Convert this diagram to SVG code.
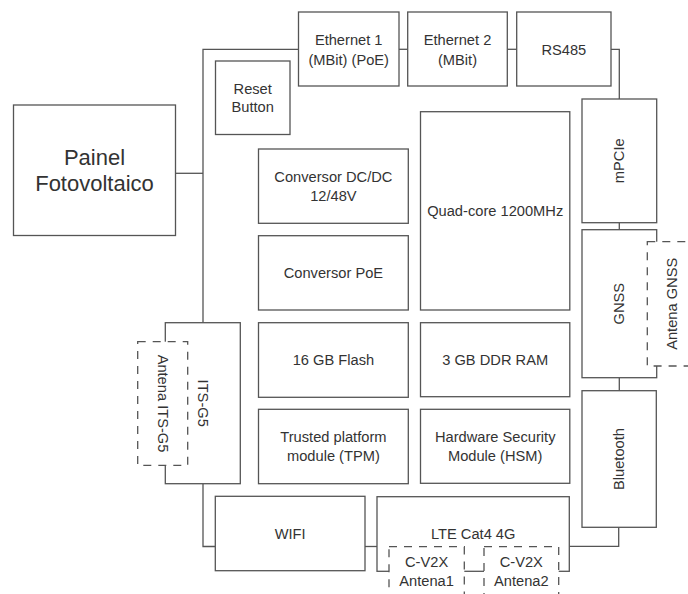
<svg xmlns="http://www.w3.org/2000/svg" width="688" height="594" viewBox="0 0 688 594">
<style>
.b{fill:#fff;stroke:#555;stroke-width:1.3}
.d{fill:#fff;stroke:#555;stroke-width:1.3;stroke-dasharray:8 7}
.c{fill:none;stroke:#555;stroke-width:1.3}
text{font-family:"Liberation Sans",Arial,sans-serif;font-size:14.67px;fill:#333;text-anchor:middle;dominant-baseline:central}
.big{font-size:22px}
</style>
<rect width="688" height="594" fill="#fff"/>
<g id="connectors">
<path class="c" d="M175.3 173.3H203"/>
<path class="c" d="M203 322.7V49.3H298.5"/>
<path class="c" d="M399 49.3H407.7"/>
<path class="c" d="M507.3 49.3H516.7"/>
<path class="c" d="M611 49.3H619.3V99"/>
<path class="c" d="M619.3 222.7V229.7"/>
<path class="c" d="M619.3 377.7V390.7"/>
<path class="c" d="M618.7 527.3V546.3H569.3"/>
<path class="c" d="M203 483.7V546.5H215.3"/>
<path class="c" d="M365 546.5H377"/>
</g>
<g id="painel"><rect class="b" x="13.5" y="105" width="162" height="130.5"/><text class="big" x="94.5" y="157">Painel</text><text class="big" x="94.5" y="183">Fotovoltaico</text></g>
<g id="eth1"><rect class="b" x="298.5" y="12" width="100.5" height="74"/><text x="348.7" y="40">Ethernet 1</text><text x="348.7" y="59.5">(MBit) (PoE)</text></g>
<g id="eth2"><rect class="b" x="407.7" y="12" width="99.6" height="74"/><text x="457.5" y="40">Ethernet 2</text><text x="457.5" y="59.5">(MBit)</text></g>
<g id="rs485"><rect class="b" x="516.7" y="12" width="94.3" height="74"/><text x="563.8" y="49.5">RS485</text></g>
<g id="reset"><rect class="b" x="215.5" y="61" width="74.5" height="73.5"/><text x="252.7" y="88.5">Reset</text><text x="252.7" y="107">Button</text></g>
<g id="dcdc"><rect class="b" x="258.5" y="149" width="149.8" height="74.3"/><text x="333.4" y="176.7">Conversor DC/DC</text><text x="333.4" y="195.8">12/48V</text></g>
<g id="poe"><rect class="b" x="258.5" y="235.7" width="149.8" height="74.3"/><text x="333.4" y="272.8">Conversor PoE</text></g>
<g id="flash"><rect class="b" x="258.5" y="322.7" width="149.8" height="74.6"/><text x="333.4" y="360">16 GB Flash</text></g>
<g id="tpm"><rect class="b" x="258.5" y="409.3" width="149.8" height="74.4"/><text x="333.4" y="437.3">Trusted platform</text><text x="333.4" y="455.8">module (TPM)</text></g>
<g id="quad"><rect class="b" x="420.5" y="111.7" width="149.3" height="198.3"/><text x="495.2" y="210.8">Quad-core 1200MHz</text></g>
<g id="ram"><rect class="b" x="420.5" y="322.7" width="149.3" height="74"/><text x="495.2" y="359.7">3 GB DDR RAM</text></g>
<g id="hsm"><rect class="b" x="420.5" y="409.3" width="149.3" height="74"/><text x="495.2" y="437">Hardware Security</text><text x="495.2" y="455.5">Module (HSM)</text></g>
<g id="its"><rect class="b" x="165.3" y="322.7" width="75" height="161"/><text transform="translate(202.8 403.2) rotate(90)" x="0" y="0">ITS-G5</text></g>
<g id="wifi"><rect class="b" x="215.3" y="496.3" width="149.7" height="74.4"/><text x="290.2" y="533.5">WIFI</text></g>
<g id="lte"><rect class="b" x="377" y="496.7" width="192.3" height="74.6"/><text x="473.2" y="533.5">LTE Cat4 4G</text></g>
<g id="mpcie"><rect class="b" x="582" y="99" width="74.7" height="123.7"/><text transform="translate(619.3 160.8) rotate(-90)" x="0" y="0">mPCIe</text></g>
<g id="gnss"><rect class="b" x="582" y="229.7" width="74.7" height="148"/><text transform="translate(619.3 303.7) rotate(-90)" x="0" y="0">GNSS</text></g>
<g id="bluetooth"><rect class="b" x="582" y="390.7" width="74.3" height="136.6"/><text transform="translate(619 459) rotate(-90)" x="0" y="0">Bluetooth</text></g>
<g id="antena-its"><rect class="d" x="137.7" y="341.7" width="50" height="123.6"/><text transform="translate(162.7 403.5) rotate(90)" x="0" y="0">Antena ITS-G5</text></g>
<g id="antena-gnss"><rect class="d" x="647.3" y="241.7" width="50" height="124.3"/><text transform="translate(671.5 303.8) rotate(-90)" x="0" y="0">Antena GNSS</text></g>
<g id="antena1"><rect class="d" x="389" y="546.7" width="75.3" height="50"/><text x="426.6" y="562">C-V2X</text><text x="426.6" y="580.5">Antena1</text></g>
<g id="antena2"><rect class="d" x="484" y="546.7" width="74.7" height="50"/><text x="521.3" y="562">C-V2X</text><text x="521.3" y="580.5">Antena2</text></g>
</svg>
